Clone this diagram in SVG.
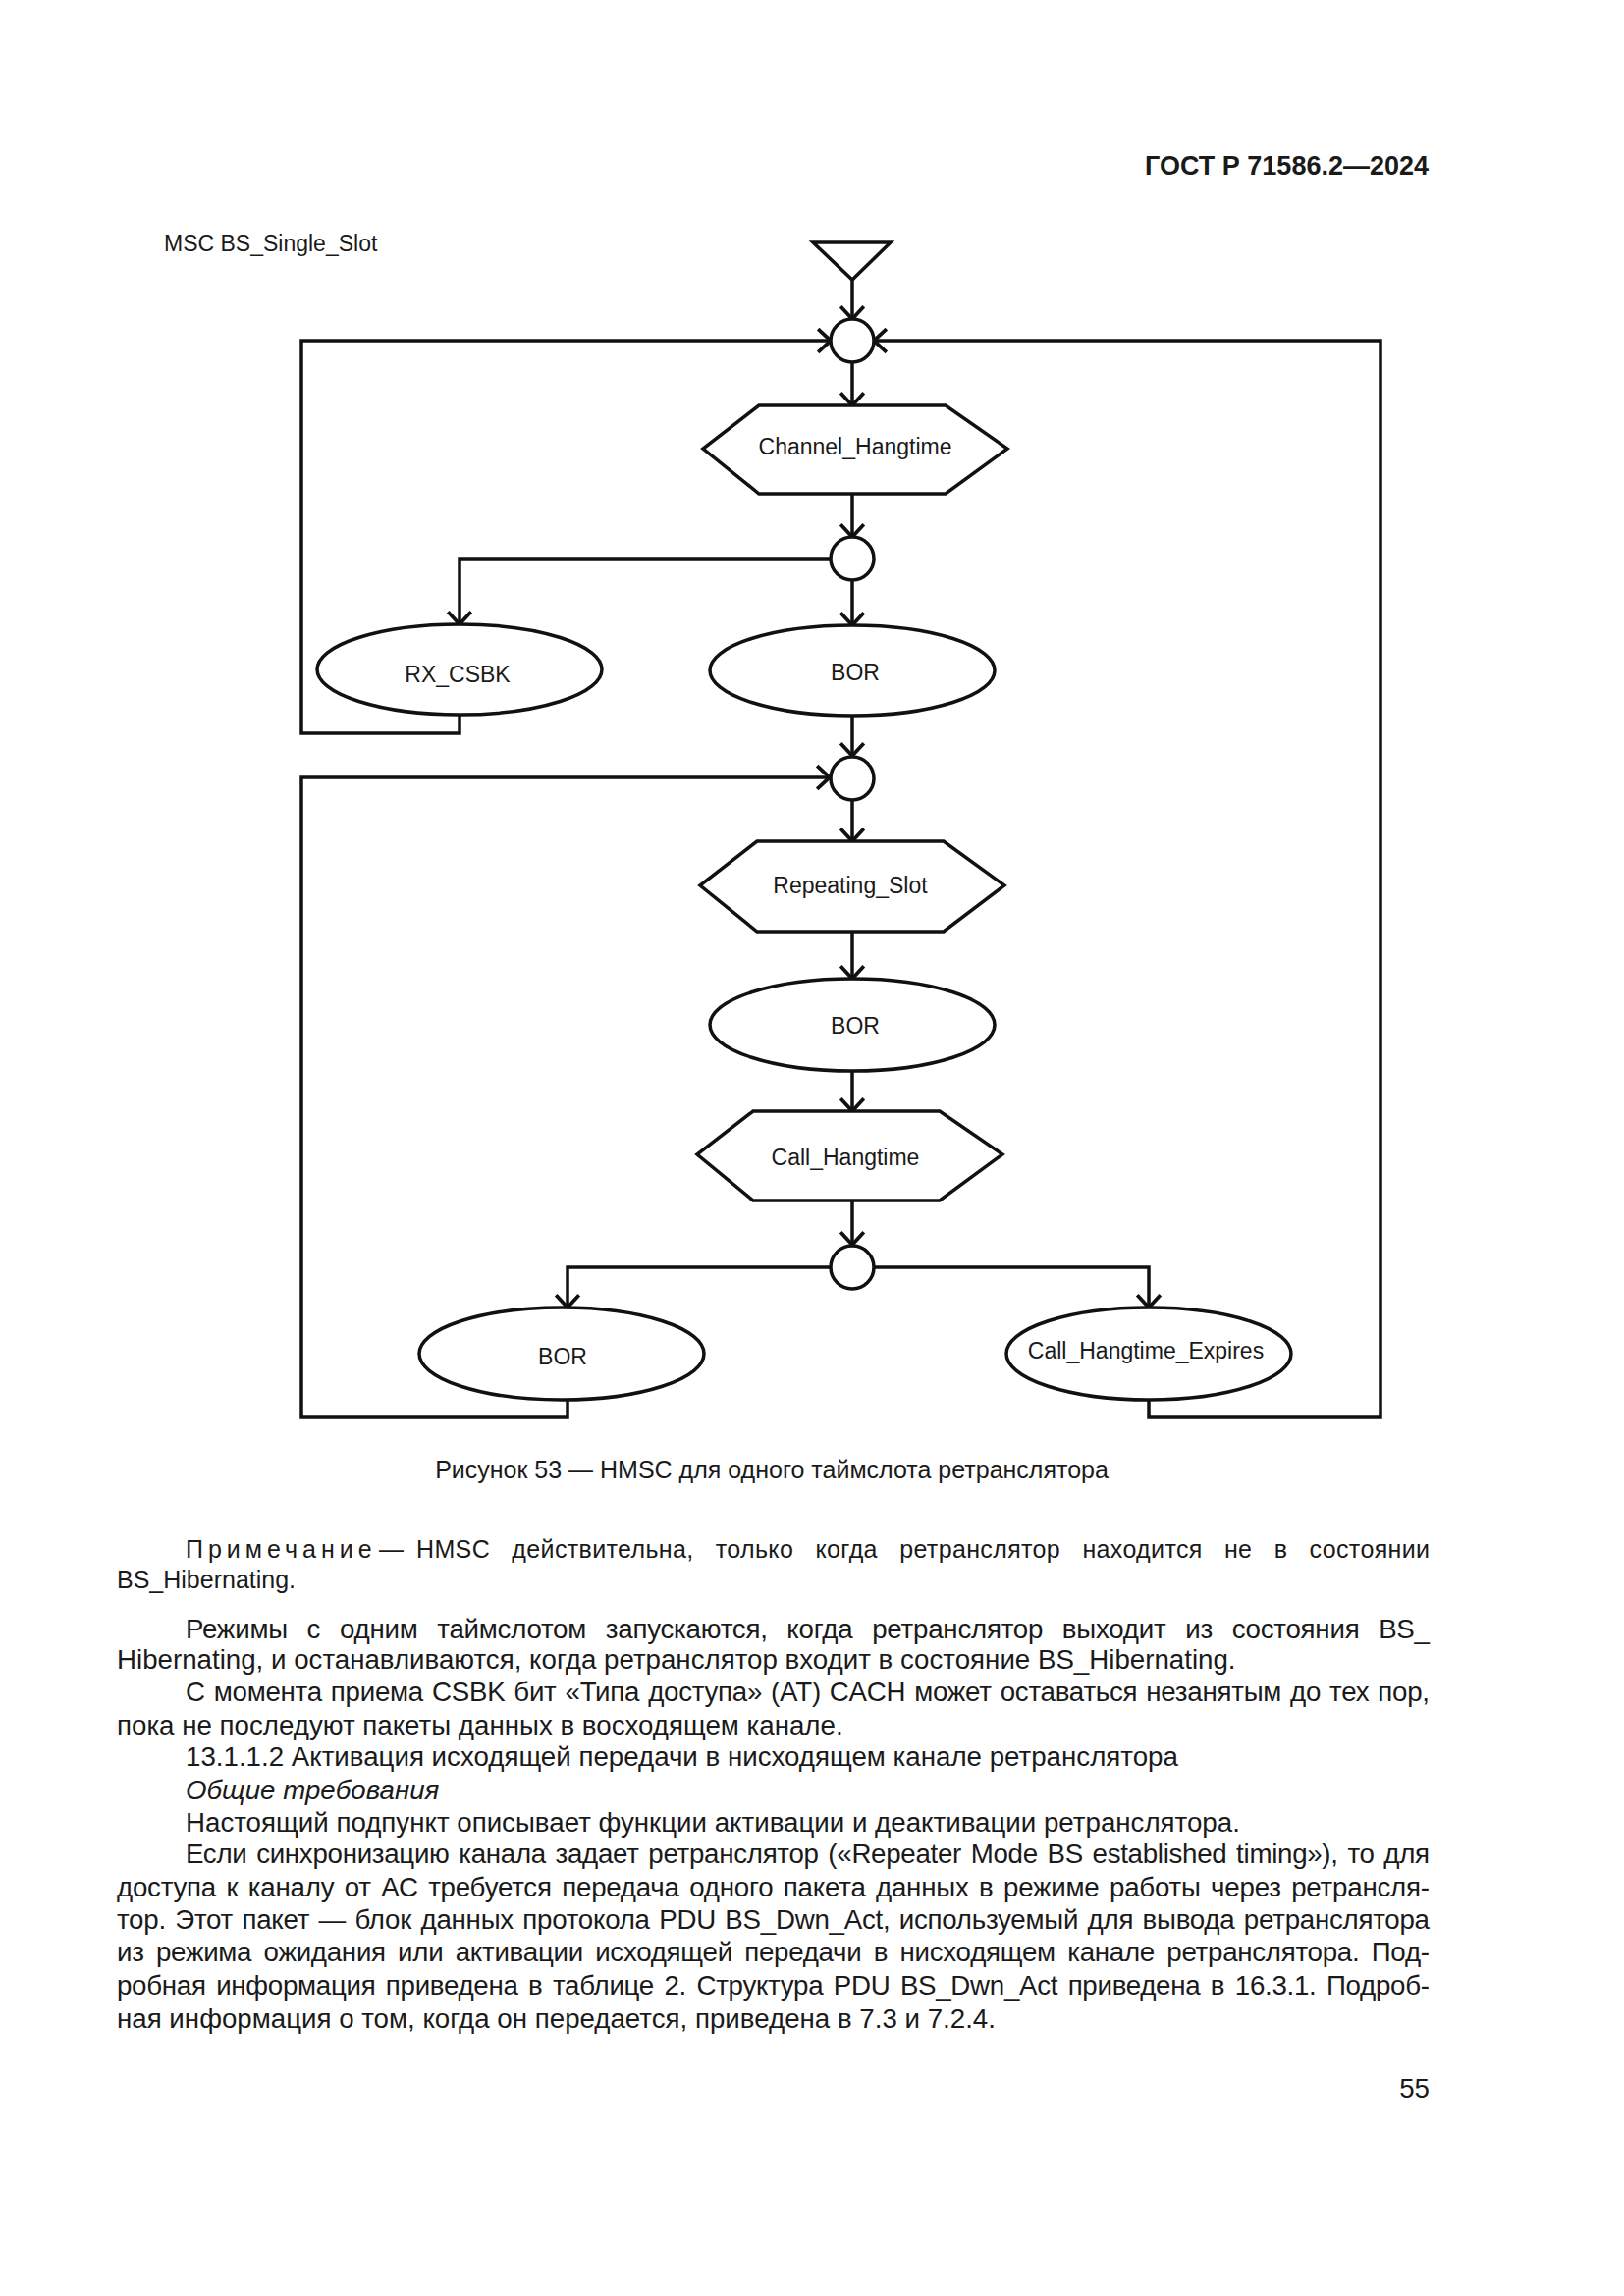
<svg xmlns="http://www.w3.org/2000/svg" width="1654" height="2339" viewBox="0 0 1654 2339">
<style>
.ln{fill:none;stroke:#111;stroke-width:3.5;stroke-linejoin:miter}
.nd{fill:#fff;stroke:#111;stroke-width:3.5}
.lbl{font-family:"Liberation Sans",Arial,sans-serif;font-size:23px;text-anchor:middle;fill:#1a1a1a}
.body{font-family:"Liberation Sans",Arial,sans-serif;font-size:27.7px;fill:#1a1a1a}
.note{font-family:"Liberation Sans",Arial,sans-serif;font-size:25px;fill:#1a1a1a}
</style>
<defs>
<marker id="arr" markerUnits="userSpaceOnUse" markerWidth="20" markerHeight="30" viewBox="-15 -14 18 28" refX="0" refY="0" orient="auto">
<path d="M-12,-11 L0,0 L-12,11" fill="none" stroke="#111" stroke-width="3.5"/>
</marker>
</defs>
<rect width="1654" height="2339" fill="#fff"/>

<text x="1455" y="178" font-family="'Liberation Sans',Arial,sans-serif" font-size="27" font-weight="bold" text-anchor="end" fill="#1a1a1a">ГОСТ Р 71586.2—2024</text>
<text x="167" y="256" font-family="'Liberation Sans',Arial,sans-serif" font-size="23" fill="#1a1a1a">MSC BS_Single_Slot</text>

<g id="connectors">
<path class="ln" d="M868,285 V325" marker-end="url(#arr)"/>
<path class="ln" d="M868,369 V413" marker-end="url(#arr)"/>
<path class="ln" d="M868,503 V547" marker-end="url(#arr)"/>
<path class="ln" d="M868,591 V637" marker-end="url(#arr)"/>
<path class="ln" d="M846,569 H468 V636" marker-end="url(#arr)"/>
<path class="ln" d="M468,729 V747 H307 V347 H846" marker-end="url(#arr)"/>
<path class="ln" d="M868,730 V770" marker-end="url(#arr)"/>
<path class="ln" d="M868,816 V857" marker-end="url(#arr)"/>
<path class="ln" d="M868,949 V997" marker-end="url(#arr)"/>
<path class="ln" d="M868,1091 V1132" marker-end="url(#arr)"/>
<path class="ln" d="M868,1223 V1268" marker-end="url(#arr)"/>
<path class="ln" d="M845,1291 H578 V1332" marker-end="url(#arr)"/>
<path class="ln" d="M891,1291 H1170 V1332" marker-end="url(#arr)"/>
<path class="ln" d="M578,1426 V1444 H307 V792 H845" marker-end="url(#arr)"/>
<path class="ln" d="M1170,1426 V1444 H1406 V347 H890" marker-end="url(#arr)"/>
</g>

<g id="start">
<polygon class="nd" points="828,247 907,247 868,285"/>
</g>
<g id="connector1">
<circle class="nd" cx="868" cy="347" r="22"/>
</g>
<g id="channel_hangtime">
<polygon class="nd" points="773,413 963,413 1026,457 963,503 773,503 716,457"/>
<text class="lbl" x="871" y="463">Channel_Hangtime</text>
</g>
<g id="connector2">
<circle class="nd" cx="868" cy="569" r="22"/>
</g>
<g id="rx_csbk">
<ellipse class="nd" cx="468" cy="682" rx="145" ry="46"/>
<text class="lbl" x="466" y="695">RX_CSBK</text>
</g>
<g id="bor1">
<ellipse class="nd" cx="868" cy="683" rx="145" ry="46"/>
<text class="lbl" x="871" y="693">BOR</text>
</g>
<g id="connector3">
<circle class="nd" cx="868" cy="793" r="22"/>
</g>
<g id="repeating_slot">
<polygon class="nd" points="771,857 961,857 1023,902 961,949 771,949 713,902"/>
<text class="lbl" x="866" y="910">Repeating_Slot</text>
</g>
<g id="bor2">
<ellipse class="nd" cx="868" cy="1044" rx="145" ry="47"/>
<text class="lbl" x="871" y="1053">BOR</text>
</g>
<g id="call_hangtime">
<polygon class="nd" points="767,1132 957,1132 1021,1176 957,1223 767,1223 710,1176"/>
<text class="lbl" x="861" y="1187">Call_Hangtime</text>
</g>
<g id="connector4">
<circle class="nd" cx="868" cy="1291" r="22"/>
</g>
<g id="bor3">
<ellipse class="nd" cx="572" cy="1379" rx="145" ry="47"/>
<text class="lbl" x="573" y="1390">BOR</text>
</g>
<g id="call_hangtime_expires">
<ellipse class="nd" cx="1170" cy="1379" rx="145" ry="47"/>
<text class="lbl" x="1167" y="1384">Call_Hangtime_Expires</text>
</g>

<text x="786" y="1506" font-family="'Liberation Sans',Arial,sans-serif" font-size="25" text-anchor="middle" fill="#1a1a1a">Рисунок 53 — HMSC для одного таймслота ретранслятора</text>

<text class="note" x="189" y="1587" letter-spacing="5">Примечание</text>
<text class="note" x="386" y="1587">—</text>
<text class="note" x="424" y="1587" word-spacing="15" textLength="1032" lengthAdjust="spacing">HMSC действительна, только когда ретранслятор находится не в состоянии</text>
<text class="note" x="119" y="1618">BS_Hibernating.</text>

<text class="body" x="189" y="1669" word-spacing="12.3" textLength="1267" lengthAdjust="spacing">Режимы с одним таймслотом запускаются, когда ретранслятор выходит из состояния BS_</text>
<text class="body" x="119" y="1700">Hibernating, и останавливаются, когда ретранслятор входит в состояние BS_Hibernating.</text>
<text class="body" x="189" y="1733" word-spacing="1.5" textLength="1267" lengthAdjust="spacing">С момента приема CSBK бит «Типа доступа» (AT) CACH может оставаться незанятым до тех пор,</text>
<text class="body" x="119" y="1767">пока не последуют пакеты данных в восходящем канале.</text>
<text class="body" x="189" y="1799">13.1.1.2 Активация исходящей передачи в нисходящем канале ретранслятора</text>
<text class="body" x="189" y="1833" font-style="italic">Общие требования</text>
<text class="body" x="189" y="1866">Настоящий подпункт описывает функции активации и деактивации ретранслятора.</text>
<text class="body" x="189" y="1898" word-spacing="2.3" textLength="1267" lengthAdjust="spacing">Если синхронизацию канала задает ретранслятор («Repeater Mode BS established timing»), то для</text>
<text class="body" x="119" y="1932" word-spacing="3" textLength="1337" lengthAdjust="spacing">доступа к каналу от АС требуется передача одного пакета данных в режиме работы через ретрансля-</text>
<text class="body" x="119" y="1965" word-spacing="2" textLength="1337" lengthAdjust="spacing">тор. Этот пакет — блок данных протокола PDU BS_Dwn_Act, используемый для вывода ретранслятора</text>
<text class="body" x="119" y="1998" word-spacing="4.9" textLength="1337" lengthAdjust="spacing">из режима ожидания или активации исходящей передачи в нисходящем канале ретранслятора. Под-</text>
<text class="body" x="119" y="2032" word-spacing="3.1" textLength="1337" lengthAdjust="spacing">робная информация приведена в таблице 2. Структура PDU BS_Dwn_Act приведена в 16.3.1. Подроб-</text>
<text class="body" x="119" y="2066">ная информация о том, когда он передается, приведена в 7.3 и 7.2.4.</text>
<text class="body" x="1456" y="2137" text-anchor="end">55</text>
</svg>
